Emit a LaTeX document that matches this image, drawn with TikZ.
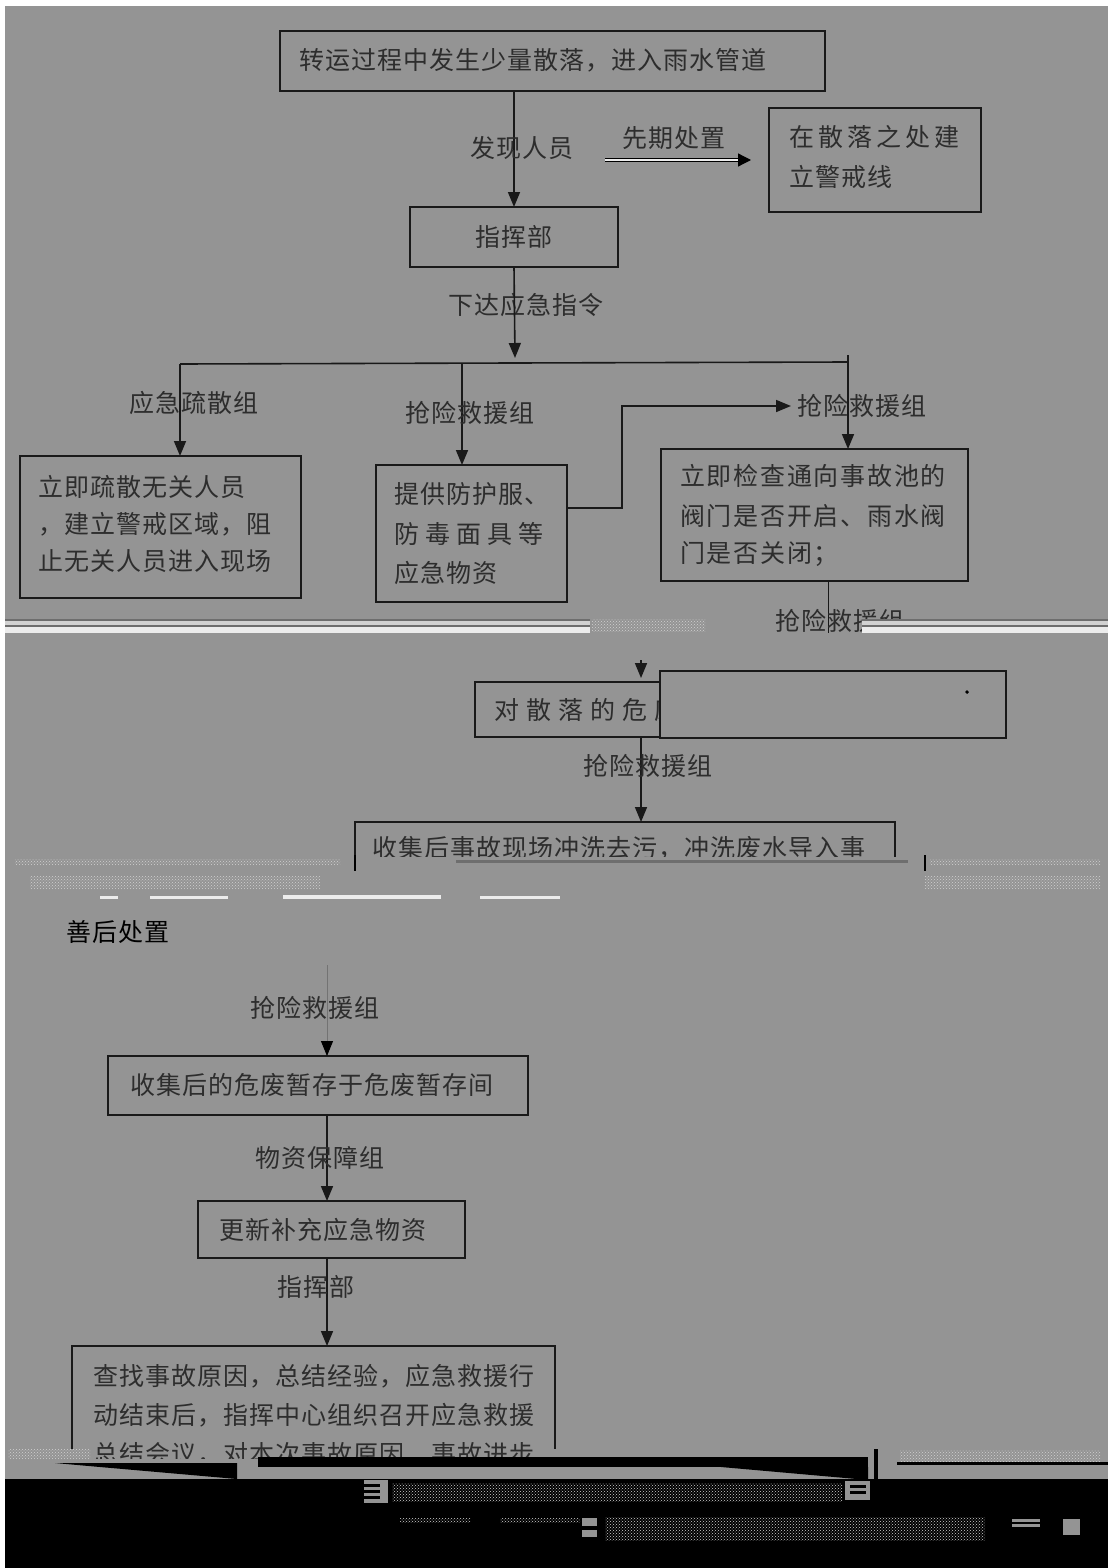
\documentclass[tikz,border=0pt]{standalone}
\usepackage{fontspec}
\usetikzlibrary{arrows.meta,calc,patterns}
\newfontfamily\cjk[LetterSpace=4]{Noto Sans CJK SC}
\newfontfamily\cjkb[LetterSpace=7]{Noto Sans CJK SC}
\newfontfamily\cjkc[LetterSpace=16]{Noto Sans CJK SC}
\newfontfamily\cjkd[LetterSpace=24]{Noto Sans CJK SC}
\newfontfamily\cjke[LetterSpace=28]{Noto Sans CJK SC}
\definecolor{bg}{RGB}{148,148,148}
\definecolor{lnd}{RGB}{110,110,110}
\definecolor{lnl}{RGB}{210,210,210}
\definecolor{lnw}{RGB}{236,236,236}
\definecolor{tx}{RGB}{45,45,45}
\begin{document}
\begin{tikzpicture}[x=1pt,y=-1pt,
 box/.style={draw=black!90, line width=1.8pt, anchor=north west, inner sep=0pt, outer sep=0pt},
 txt/.style={anchor=west, inner sep=0pt, text=tx, font=\cjk\fontsize{25}{30}\selectfont},
 lbl/.style={inner sep=0pt, text=tx, font=\cjk\fontsize{25}{30}\selectfont},
 con/.style={line width=1.6pt, draw=black!90},
 arr/.style={con, -{Triangle[length=15pt,width=12pt]}},
 arrthin/.style={line width=0.9pt, draw=black!55, -{Triangle[length=15pt,width=12pt,fill=black,color=black]}},
]
\useasboundingbox (0,0) rectangle (1108,1568);
\fill[white] (0,0) rectangle (1108,1568);
\fill[bg] (5,6) rectangle (1108,1568);

% ---- top part
\node[box, minimum width=545pt, minimum height=60pt] (b1) at (280,31) {};
\node[txt] (t1) at (299,60) {转运过程中发生少量散落，进入雨水管道};

\node[box, minimum width=212pt, minimum height=104pt] (warn) at (769,108) {};
\node[txt, font=\cjkc\fontsize{25}{30}\selectfont] (tw1) at (789,137) {在散落之处建};
\node[txt] (tw2) at (789,177) {立警戒线};

\node[box, minimum width=208pt, minimum height=60pt] (cmd) at (410,207) {};
\node[lbl] (tc) at (514,237) {指挥部};

\draw[arr] (b1.south -| cmd.north) -- (cmd.north);
\node[lbl] (l1) at (522,148) {发现人员};
\node[lbl] (l2) at (674,138) {先期处置};
\coordinate (pa) at (605,160);
\coordinate (pb) at (751,160);
\draw[line width=1.2pt, draw=black, double=lnw, double distance=1.8pt, -{Triangle[length=13pt,width=13pt]}] (pa) -- (pb);

\node[lbl] (l3) at (526,305) {下达应急指令};
\coordinate (brc) at (515,358);
\draw[arr] (cmd.south) -- (brc);
\coordinate (br1) at (180,364);
\coordinate (br2) at (462,363);
\coordinate (br3) at (848,362);
\coordinate (br3t) at (848,355);
\draw[con] (br1) -- (br3);

% ---- three groups
\node[box, minimum width=281pt, minimum height=142pt] (bA) at (20,456) {};
\node[txt] (ta1) at (38,487) {立即疏散无关人员};
\node[txt] (ta2) at (38,524) {，建立警戒区域，阻};
\node[txt] (ta3) at (38,561) {止无关人员进入现场};

\node[box, minimum width=191pt, minimum height=137pt] (bB) at (376,465) {};
\node[txt] (tb1) at (394,494) {提供防护服、};
\node[txt, font=\cjkd\fontsize{25}{30}\selectfont] (tb2) at (394,534) {防毒面具等};
\node[txt] (tb3) at (394,573) {应急物资};

\node[box, minimum width=307pt, minimum height=132pt] (bC) at (661,449) {};
\node[txt, font=\cjkb\fontsize{25}{30}\selectfont] (tcc1) at (680,476) {立即检查通向事故池的};
\node[txt, font=\cjkb\fontsize{25}{30}\selectfont] (tcc2) at (680,516) {阀门是否开启、雨水阀};
\node[txt, font=\cjkb\fontsize{25}{30}\selectfont] (tcc3) at (680,554) {门是否关闭；};

\draw[arr] (br1) -- (br1 |- bA.north);
\draw[arr] (br2) -- (br2 |- bB.north);
\draw[arr] (br3t) -- (br3t |- bC.north);
\node[lbl] (l4) at (194,403) {应急疏散组};
\node[lbl] (l5) at (470,413) {抢险救援组};
\node[lbl] (l6) at (862,406) {抢险救援组};
\coordinate (bBo) at ($(bB.north east)+(0,43)$);
\coordinate (tipR) at (791,406);
\draw[arr] (bBo) -- ++(55,0) |- (tipR);

% ---- line out of bC and first band
\coordinate (cup) at ($(bC.south)+(14,0)$);
\coordinate (cdn) at ($(bC.south)+(14,52)$);
\draw[con] (cup) -- (cdn);
\node[lbl] (l7) at (840,621) {抢险救援组};
\fill[lnd] (5,619) rectangle (590,621);
\fill[lnl] (5,621) rectangle (590,625);
\fill[lnd] (5,625) rectangle (590,627);
\fill[lnw] (5,627) rectangle (590,633);
\fill[lnd] (862,619) rectangle (1108,621);
\fill[lnl] (862,621) rectangle (1108,625);
\fill[lnd] (862,625) rectangle (1108,627);
\fill[lnw] (862,627) rectangle (1108,633);
\fill[pattern=crosshatch dots, pattern color=lnl] (592,619) rectangle (705,631);

% ---- middle part
\coordinate (dtop) at (641,660);
\node[box, minimum width=530pt, minimum height=55pt] (bD) at (475,682) {};
\node[txt, font=\cjke\fontsize{25}{30}\selectfont] (td) at (494,710) {对散落的危废};
\node[box, fill=bg, minimum width=346pt, minimum height=67pt] (bE) at (660,671) {};
\node[circle, fill=black, inner sep=1.4pt] (dot) at (967,692) {};
\draw[arr, shorten >=4pt] (dtop) -- (dtop |- bD.north);

\node[box, minimum width=540pt, minimum height=60pt] (bF) at (355,822) {};
\node[txt] (tf) at (372,848) {收集后事故现场冲洗去污，冲洗废水导入事};
\draw[arr] (dtop |- bD.south) -- (dtop |- bF.north);
\node[lbl] (l8) at (648,766) {抢险救援组};

% ---- second band (cut-off region)
\fill[bg] (5,857) rectangle (1108,912);
\fill[lnd] (456,860) rectangle (908,862.5);
\draw[line width=1.2pt, black] (355,855) -- (355,871);
\draw[line width=1.2pt, black] (925,855) -- (925,871);
\fill[pattern=crosshatch dots, pattern color=lnl] (15,859) rectangle (340,864);
\fill[pattern=crosshatch dots, pattern color=lnl] (30,876) rectangle (320,888);
\fill[pattern=crosshatch dots, pattern color=lnl] (930,859) rectangle (1100,864);
\fill[pattern=crosshatch dots, pattern color=lnl] (925,876) rectangle (1100,888);
\fill[lnw] (283,895) rectangle (441,899);
\fill[lnw] (100,896) rectangle (118,899);
\fill[lnw] (150,896) rectangle (228,899);
\fill[lnw] (480,896) rectangle (560,899);

\node[lbl, text=black] (l9) at (118,932) {善后处置};

% ---- lower part
\coordinate (s0) at (327,965);
\node[box, minimum width=420pt, minimum height=59pt] (bG) at (108,1056) {};
\node[lbl] (tg) at (312,1085) {收集后的危废暂存于危废暂存间};
\node[box, minimum width=267pt, minimum height=57pt] (bH) at (198,1201) {};
\node[lbl] (th) at (323,1230) {更新补充应急物资};
\node[box, minimum width=483pt, minimum height=130pt] (bI) at (72,1346) {};
\node[txt] (ti1) at (93,1376) {查找事故原因，总结经验，应急救援行};
\node[txt] (ti2) at (93,1415) {动结束后，指挥中心组织召开应急救援};

\draw[arrthin] (s0) -- (s0 |- bG.north);
\draw[arr] (s0 |- bG.south) -- (s0 |- bH.north);
\draw[arr] (s0 |- bH.south) -- (s0 |- bI.north);
\node[lbl] (l10) at (315,1008) {抢险救援组};
\node[lbl] (l11) at (320,1158) {物资保障组};
\node[lbl] (l12) at (316,1287) {指挥部};

% ---- bottom cut-off region
\fill[bg] (5,1449) rectangle (1108,1482);
\begin{scope}
\clip (5,1430) rectangle (1108,1458);
\node[txt] (ti3) at (93,1454) {总结会议，对本次事故原因、事故进步};
\end{scope}
\fill[pattern=crosshatch dots, pattern color=lnl] (8,1449) rectangle (90,1458);
\fill[black] (258,1457) rectangle (868,1467);
\fill[black] (55,1463) -- (237,1463) -- (237,1479) -- (100,1467) -- cycle;
\fill[black] (721,1467) -- (868,1467) -- (868,1480) -- cycle;
\fill[black] (874,1449) rectangle (878,1479);
\fill[black] (897,1462) rectangle (1108,1465);
\fill[pattern=crosshatch dots, pattern color=lnl] (900,1450) rectangle (1100,1461);
\fill[black] (5,1479) rectangle (1108,1568);
\fill[bg] (364,1480) rectangle (388,1503);
\foreach \yy in {1484,1490,1496}{\fill[black] (364,\yy) rectangle (380,\yy+2.5);}
\fill[pattern=crosshatch dots, pattern color=lnl] (392,1483) rectangle (842,1501);
\fill[bg] (845,1481) rectangle (870,1500);
\foreach \yy in {1485,1491}{\fill[black] (850,\yy) rectangle (866,\yy+2.5);}
\fill[pattern=crosshatch dots, pattern color=lnl] (400,1518) rectangle (470,1522);
\fill[pattern=crosshatch dots, pattern color=lnl] (500,1518) rectangle (580,1522);
\fill[bg] (582,1518) rectangle (597,1526);
\fill[bg] (582,1530) rectangle (597,1537);
\fill[pattern=crosshatch dots, pattern color=lnl] (605,1517) rectangle (985,1540);
\fill[bg] (1012,1519) rectangle (1040,1521.5);
\fill[bg] (1012,1524) rectangle (1040,1526.5);
\fill[bg] (1063,1519) rectangle (1080,1535);
\end{tikzpicture}
\end{document}
